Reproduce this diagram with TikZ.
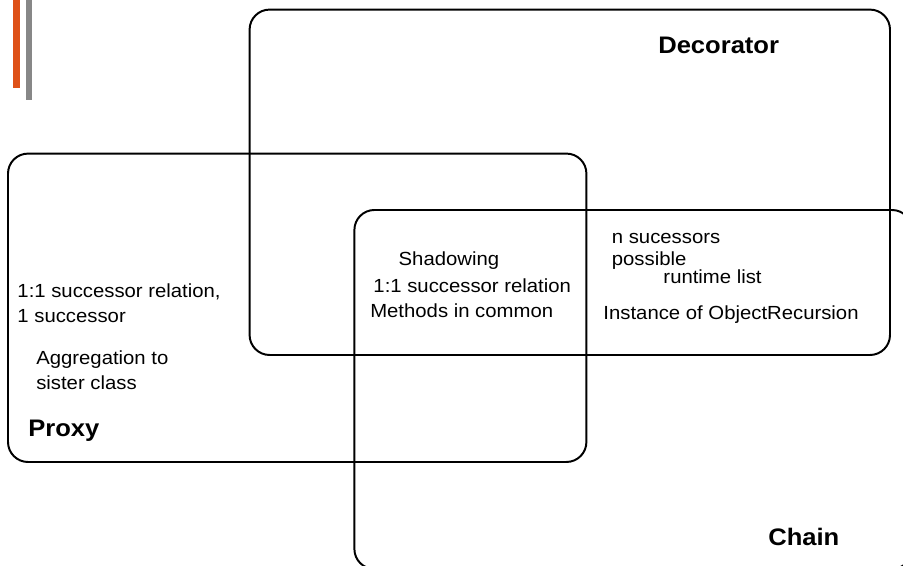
\documentclass[tikz,border=0pt]{standalone}
\usepackage{fontspec}
\setmainfont{Liberation Sans}[FakeStretch=1.07]
\usepackage{tikz}
\usetikzlibrary{positioning}
\definecolor{barorange}{HTML}{DE5118}
\definecolor{bargray}{HTML}{878787}

\begin{document}
\begin{tikzpicture}[
    setbox/.style={draw=black,line width=1.4pt,rounded corners=0.5cm},
    txt/.style={anchor=base west,inner sep=0pt,font=\fontsize{13.5}{16}\selectfont},
    title/.style={anchor=base west,inner sep=0pt,font=\fontsize{17}{20}\selectfont\bfseries}]
  \useasboundingbox (0,0) rectangle (22.575,14.15);
  % the two bars up left
  \fill[barorange] (0.33,14.15) rectangle (0.5,11.96);
  \fill[bargray] (0.65,14.15) rectangle (0.81,11.65);
  % the three sets
  \draw[setbox] (6.24,13.91) rectangle (22.25,5.275);
  \draw[setbox] (0.2,10.31) rectangle (14.66,2.6);
  \draw[setbox] (8.86,8.9) rectangle (22.8,-0.075);
  \node[title] (dec) at (16.45,12.8) {Decorator};
  \node[title] (prx) at (0.7,3.225) {Proxy};
  \node[title] (chn) at (19.2,0.5) {Chain};
  % proxy only
  \node[txt] (prxrel) at (0.43,6.7) {1:1 successor relation,};
  \node[txt] (prxone) at (0.43,6.09) {1 successor};
  \node[txt] (aggr) at (0.9,5.04) {Aggregation to};
  \node[txt] (sister) at (0.9,4.42) {sister class};
  % all three
  \node[txt] (shad) at (9.96,7.5) {Shadowing};
  \node[txt] (allrel) at (9.33,6.84) {1:1 successor relation};
  \node[txt] (meth) at (9.25,6.22) {Methods in common};
  % decorator and chain
  \node[txt] (nsucc) at (15.29,8.07) {n sucessors};
  \node[txt] (poss) at (15.29,7.51) {possible};
  \node[txt] (rtlist) at (16.58,7.05) {runtime list};
  \node[txt] (inst) at (15.08,6.15) {Instance of ObjectRecursion};
\end{tikzpicture}
\end{document}
